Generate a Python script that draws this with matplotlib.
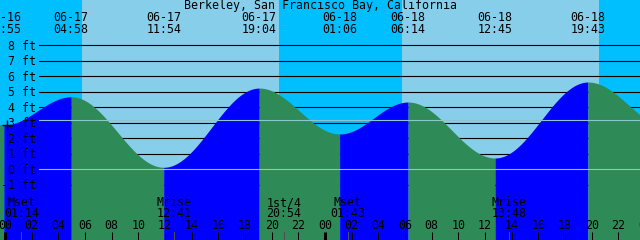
import matplotlib
matplotlib.use("Agg")
import matplotlib.pyplot as plt
import matplotlib.transforms as mtransforms
import numpy as np

# ---------------- data ----------------
title = "Berkeley, San Francisco Bay, California"
tide_times = ["06-16 18:20", "06-16 23:55", "06-17 04:58", "06-17 11:54",
              "06-17 19:04", "06-18 01:06", "06-18 06:14", "06-18 12:45",
              "06-18 19:43", "06-19 01:55"]
tide_heights = [5.50, 2.86, 4.68, 0.13, 5.24, 2.28, 4.34, 0.73, 5.63, 2.60]
sunrise_times = ["06-17 05:45", "06-18 05:45"]
sunset_times = ["06-17 20:34", "06-18 20:35"]
moon_events = ["Mset", "Mrise", "1st/4", "Mset", "Mrise"]
moon_times = ["06-17 01:14", "06-17 12:41", "06-17 20:54", "06-18 01:43", "06-18 13:48"]
depth_levels = [-1, 0, 1, 2, 3, 4, 5, 6, 7, 8]
mean_level = 3.16
datum_level = 0.0
now_time = "06-17 00:08"
hour_ticks = list(range(0, 50, 2))
hour_labels = ["%02d" % (h % 24) for h in hour_ticks]

# ---------------- helpers ----------------
def to_hours(s):
    d, t = s.split()
    mo, dy = d.split("-")
    hh, mm = t.split(":")
    return (int(dy) - 17) * 24 + int(hh) + int(mm) / 60.0

W, H = 640, 240
X0_PX, PX_PER_H = 5.0, 40.0 / 3.0
Y0_PX, PX_PER_FT = 169.3, 15.5
xmin = (0 - X0_PX) / PX_PER_H
xmax = (W - X0_PX) / PX_PER_H
ymax = Y0_PX / PX_PER_FT
ymin = (Y0_PX - H) / PX_PER_FT

t_ev = np.array([to_hours(s) for s in tide_times])
h_ev = np.array(tide_heights)

def tide_at(t):
    t = np.atleast_1d(t)
    out = np.empty_like(t, dtype=float)
    for k, tt in enumerate(t):
        i = np.searchsorted(t_ev, tt) - 1
        i = min(max(i, 0), len(t_ev) - 2)
        f = (tt - t_ev[i]) / (t_ev[i + 1] - t_ev[i])
        out[k] = h_ev[i] + (h_ev[i + 1] - h_ev[i]) * (1 - np.cos(np.pi * f)) / 2
    return out

DAY = "#87CEEB"
NIGHT = "#00BFFF"
FLOOD = "#0000FF"
EBB = "#2E8B57"
MSLC = "#8ec4cc"
FONT = "DejaVu Sans Mono"
FS = 8.4

fig = plt.figure(figsize=(W / 100, H / 100), dpi=100)
ax = fig.add_axes([0, 0, 1, 1])
ax.set_xlim(xmin, xmax)
ax.set_ylim(ymin, ymax)
ax.axis("off")

def ypx(p):  # axes fraction from pixel y (top origin)
    return 1 - p / H

bt = mtransforms.blended_transform_factory(ax.transData, ax.transAxes)

# sky
ax.axvspan(xmin - 10, xmax + 10, color=NIGHT, lw=0, zorder=0)
for r, s in zip(sunrise_times, sunset_times):
    ax.axvspan(to_hours(r), to_hours(s), color=DAY, lw=0, zorder=0.5)

# depth lines (behind water)
line_x0 = 39 / W
for d in depth_levels:
    ax.axhline(d, xmin=line_x0, xmax=1, color="black", lw=0.8, zorder=1)

# water
for i in range(len(t_ev) - 1):
    ts = np.linspace(t_ev[i], t_ev[i + 1], 200)
    hs = tide_at(ts)
    col = FLOOD if h_ev[i + 1] > h_ev[i] else EBB
    ax.fill_between(ts, ymin - 1, hs, color=col, lw=0, zorder=2, antialiased=False)

# mean level and datum lines
ax.axhline(mean_level, xmin=line_x0, xmax=1, color=MSLC, lw=0.8, zorder=3)
ax.axhline(datum_level, xmin=line_x0, xmax=1, color=MSLC, lw=0.8, zorder=3)

# depth labels
for d in depth_levels:
    ax.text(36 / W, ypx(Y0_PX - d * PX_PER_FT + 4.3), "%d ft" % d, transform=ax.transAxes,
            ha="right", va="baseline", family=FONT, fontsize=FS, zorder=5)

# title
ax.text(0.5, ypx(9), title, transform=ax.transAxes, ha="center", va="baseline",
        family=FONT, fontsize=FS, zorder=5)

# tide event labels
for s in tide_times:
    t = to_hours(s)
    date, tm = s.split()
    ax.text(t, ypx(21), date, transform=bt, ha="center", va="baseline",
            family=FONT, fontsize=FS, zorder=5)
    ax.text(t, ypx(33), tm, transform=bt, ha="center", va="baseline",
            family=FONT, fontsize=FS, zorder=5)

# moon events
for name, s in zip(moon_events, moon_times):
    t = to_hours(s)
    ax.text(t, ypx(206), name, transform=bt, ha="center", va="baseline",
            family=FONT, fontsize=FS, zorder=5)
    ax.text(t, ypx(217), s.split()[1], transform=bt, ha="center", va="baseline",
            family=FONT, fontsize=FS, zorder=5)
    ax.plot([t, t], [ypx(232), ypx(240)], transform=bt, color="#505050", lw=0.75, zorder=4)

# hour ticks and labels
for h, lab in zip(hour_ticks, hour_labels):
    lw = 2.2 if h % 24 == 0 else 0.75
    ax.plot([h, h], [ypx(232), ypx(240)], transform=bt, color="black", lw=lw,
            solid_capstyle="butt", zorder=4)
    ax.text(h, ypx(229), lab, transform=bt, ha="center", va="baseline",
            family=FONT, fontsize=FS, zorder=5)

# now marker
tn = to_hours(now_time)
ax.plot([tn], tide_at(tn), marker="+", ms=7, mew=1, color="black", zorder=6)

fig.savefig("out.png", dpi=100)
